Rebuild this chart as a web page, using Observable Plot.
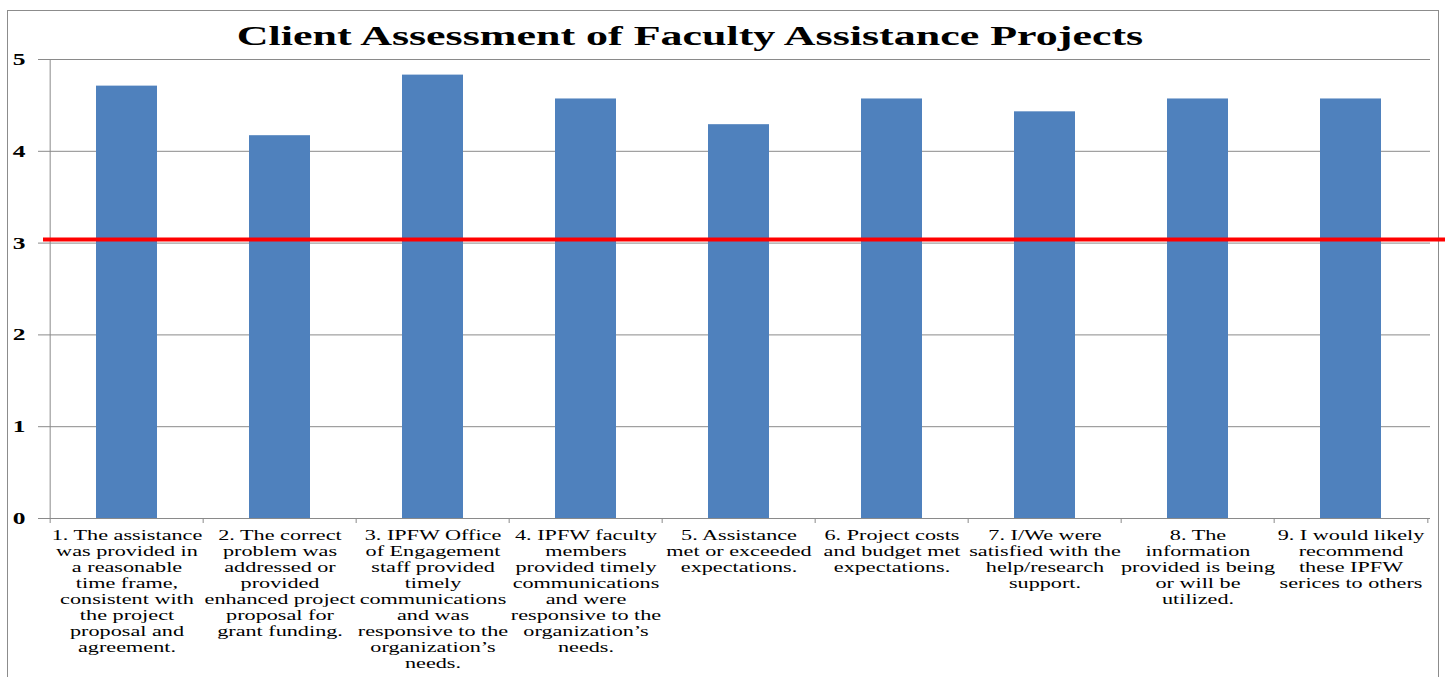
<!DOCTYPE html>
<html><head><meta charset="utf-8">
<script src="https://cdn.jsdelivr.net/npm/d3@7"></script>
<script src="https://cdn.jsdelivr.net/npm/@observablehq/plot@0.6"></script>
<style>
body{margin:0;background:#fff;}
#wrap{position:relative;width:1445px;height:677px;overflow:hidden;background:#fff;}
#border{position:absolute;left:7px;top:10px;width:1432px;height:720px;border:1.5px solid #8c8c8c;box-sizing:border-box;}
#title{position:absolute;left:0;top:22px;width:1380px;text-align:center;font:bold 28px "Liberation Serif","Times New Roman",serif;line-height:28px;transform:scaleX(1.57);transform-origin:690px 0;white-space:nowrap;color:#000;}
#chart{position:absolute;left:0;top:0;}
</style></head>
<body><div id="wrap"><div id="border"></div><div id="chart"></div><div id="title"></div></div>
<script>
const title = "Client Assessment of Faculty Assistance Projects";
const categories = [
  "1. The assistance\nwas provided in\na reasonable\ntime frame,\nconsistent with\nthe project\nproposal and\nagreement.",
  "2. The correct\nproblem was\naddressed or\nprovided\nenhanced project\nproposal for\ngrant funding.",
  "3. IPFW Office\nof Engagement\nstaff provided\ntimely\ncommunications\nand was\nresponsive to the\norganization\u2019s\nneeds.",
  "4. IPFW faculty\nmembers\nprovided timely\ncommunications\nand were\nresponsive to the\norganization\u2019s\nneeds.",
  "5. Assistance\nmet or exceeded\nexpectations.",
  "6. Project costs\nand budget met\nexpectations.",
  "7. I/We were\nsatisfied with the\nhelp/research\nsupport.",
  "8. The\ninformation\nprovided is being\nor will be\nutilized.",
  "9. I would likely\nrecommend\nthese IPFW\nserices to others"
];
const scores = [4.71, 4.17, 4.83, 4.57, 4.29, 4.57, 4.43, 4.57, 4.57];
const benchmark = [3.04];
const yTicks = [0, 1, 2, 3, 4, 5];

document.getElementById("title").textContent = title;

const W = 1445, H = 677, mL = 47, mR = 15, mT = 59, mB = 159;
const step = (W - mL - mR) / categories.length;
const data = categories.map((c, i) => ({category: c, score: scores[i]}));
const grid = "#8a8a8a";

const chart = Plot.plot({
  width: W, height: H,
  marginLeft: mL, marginRight: mR, marginTop: mT, marginBottom: mB,
  x: {type: "band", domain: categories, paddingInner: 0.6, paddingOuter: 0.3, axis: null},
  y: {domain: [0, 5], axis: null},
  style: {background: "transparent", fontFamily: "'Liberation Serif','Times New Roman',serif", color: "#000"},
  marks: [
    Plot.ruleY(yTicks, {y: d => d, stroke: grid, strokeWidth: 1, insetLeft: -9}),
    Plot.ruleX([categories[0]], {x: d => d, dx: -step / 2, y1: 0, y2: 5, stroke: grid}),
    Plot.ruleX(categories, {x: d => d, dx: -step / 2, y1: 0, y2: 0, insetBottom: -5, stroke: grid}),
    Plot.ruleX([categories[categories.length - 1]], {x: d => d, dx: step / 2, y1: 0, y2: 0, insetBottom: -5, stroke: grid}),
    Plot.barY(data, {x: "category", y: "score", fill: "#4F81BD"}),
    Plot.ruleY(benchmark, {y: d => d, stroke: "#FF0000", strokeWidth: 4, insetLeft: -4, insetRight: -15}),
    Plot.text(yTicks, {y: d => d, text: d => String(d), frameAnchor: "left", textAnchor: "end", dx: -22, fontWeight: "bold", fontSize: 17, fill: "#000"}),
    Plot.text(categories, {x: d => d, text: d => d, frameAnchor: "bottom", lineAnchor: "top", dy: 10, fontSize: 15, lineHeight: 1.07, fill: "#000"})
  ]
});

const yStr = new Set(yTicks.map(String));
chart.querySelectorAll("text").forEach(t => {
  const sx = yStr.has(t.textContent.trim()) ? 1.5 : 1.48;
  const tr = t.getAttribute("transform");
  if (tr) {
    t.setAttribute("transform", tr + ` scale(${sx},1)`);
  } else {
    const x = +(t.getAttribute("x") || 0), y = +(t.getAttribute("y") || 0);
    t.setAttribute("transform", `translate(${x},${y}) scale(${sx},1) translate(${-x},${-y})`);
  }
});

document.getElementById("chart").appendChild(chart);
</script>
</body></html>
